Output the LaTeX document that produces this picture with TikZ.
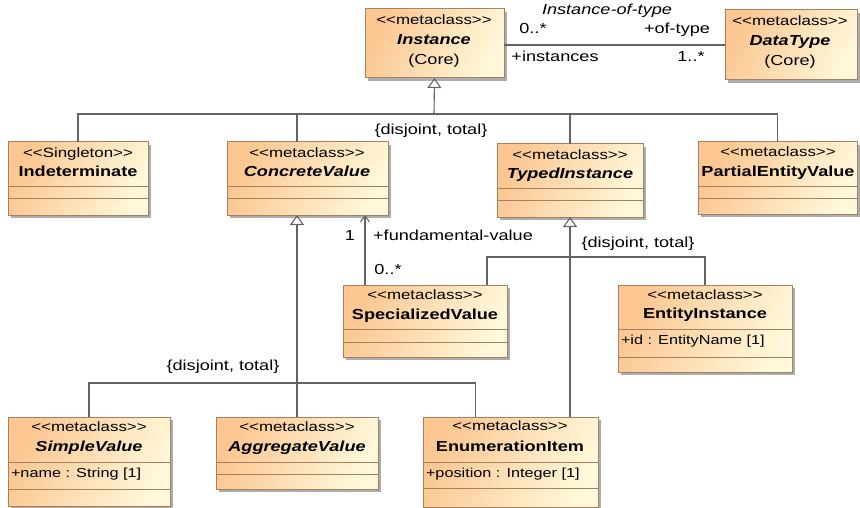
\documentclass[tikz,border=0pt]{standalone}
\usepackage{fontspec}
\setmainfont{Liberation Sans}[FakeStretch=1.25]
\usetikzlibrary{arrows.meta,shadows,calc}

\definecolor{boxorange}{RGB}{251,198,144}
\definecolor{boxyellow}{RGB}{255,248,218}
\definecolor{boxborder}{RGB}{168,128,96}
\definecolor{linegray}{RGB}{100,100,100}

% class box: name, left, top, width, height
\newcommand{\umlclass}[5]{\node[classbox, minimum width=#4, minimum height=#5] (#1) at (#2,#3) {};}
% compartment line across a class box at height y
\newcommand{\compline}[2]{\draw[sepline] (#1.west |- 0,#2) -- (#1.east |- 0,#2);}
\newcommand{\stereotype}[1]{<{}<#1>{}>}

\begin{document}
\begin{tikzpicture}[y=1pt, x=1pt, yscale=-1, inner sep=0pt, outer sep=0pt,
  classbox/.style={draw=boxborder, line width=1pt, anchor=north west,
    left color=boxorange, right color=boxyellow, shading angle=65,
    drop shadow={shadow xshift=3pt, shadow yshift=-3pt, fill=black!40, opacity=0.8}},
  sepline/.style={draw=boxborder, line width=1pt},
  stereo/.style={font=\fontsize{13.5}{15}\selectfont, anchor=mid},
  cname/.style={font=\fontsize{14.5}{16}\selectfont\bfseries, anchor=mid},
  aname/.style={font=\fontsize{14.5}{16}\selectfont\bfseries\itshape, anchor=mid},
  attr/.style={font=\fontsize{13}{15}\selectfont, anchor=mid west},
  lbl/.style={font=\fontsize{14.5}{16}\selectfont, anchor=mid},
  conn/.style={draw=linegray, line width=1.1pt},
  gen/.style={conn, -{Triangle[open, length=10pt, width=14pt]}},
  nav/.style={conn, -{Straight Barb[length=6pt, width=9pt]}}]

  \useasboundingbox (0,0) rectangle (860,508);

  % top row
  \umlclass{instance}{365}{9}{139}{69}
  \path (434,22) node[stereo] (instancest) {\stereotype{metaclass}};
  \path (434,42) node[aname] (instancenm) {Instance};
  \path (434,62) node[lbl] (instancepk) {(Core)};

  \umlclass{datatype}{725}{10}{132}{70}
  \path (790,23) node[stereo] (datatypest) {\stereotype{metaclass}};
  \path (790,43) node[aname] (datatypenm) {DataType};
  \path (790,63) node[lbl] (datatypepk) {(Core)};

  % association instance-of-type
  \draw[conn] (instance.east |- datatype.west) -- (datatype.west);
  \path (607,12) node[lbl] (assocname) {\itshape Instance-of-type};
  \path (533,31) node[lbl] (multinst) {0..*};
  \path (677,31) node[lbl] (roletype) {+of-type};
  \path (555,59) node[lbl] (roleinst) {+instances};
  \path (691,59) node[lbl] (multtype) {1..*};

  % level one
  \umlclass{indeterminate}{8}{142}{140}{73}
  \compline{indeterminate}{187}
  \compline{indeterminate}{199}
  \path (78,155) node[stereo] (indeterminatest) {\stereotype{Singleton}};
  \path (78,174) node[cname] (indeterminatenm) {Indeterminate};

  \umlclass{concrete}{227}{142}{161}{73}
  \compline{concrete}{187}
  \compline{concrete}{199}
  \path (307,155) node[stereo] (concretest) {\stereotype{metaclass}};
  \path (307,174) node[aname] (concretenm) {ConcreteValue};

  \umlclass{typed}{497}{144}{146}{73}
  \compline{typed}{189}
  \compline{typed}{201}
  \path (570,157) node[stereo] (typedst) {\stereotype{metaclass}};
  \path (570,176) node[aname] (typednm) {TypedInstance};

  \umlclass{partial}{698}{142}{159}{72}
  \compline{partial}{187}
  \compline{partial}{199}
  \path (778,154) node[stereo] (partialst) {\stereotype{metaclass}};
  \path (778,174) node[cname] (partialnm) {PartialEntityValue};

  % generalization of instance
  \coordinate (bar1) at (434,114);
  \coordinate (cvtop) at (297,142);
  \draw[gen] (bar1) -- (instance.south);
  \draw[conn] (indeterminate.north) |- (partial.north |- bar1) -- (partial.north);
  \draw[conn] (typed.north) -- (typed.north |- bar1);
  \draw[conn] (cvtop) -- (cvtop |- bar1);
  \path (431,132) node[lbl] (disjointa) {\{disjoint, total\}};

  % level two
  \umlclass{specialized}{343}{285}{164}{72}
  \compline{specialized}{329}
  \compline{specialized}{342}
  \path (425,297) node[stereo] (specializedst) {\stereotype{metaclass}};
  \path (425,317) node[cname] (specializednm) {SpecializedValue};

  \umlclass{entity}{618}{285}{174}{87}
  \compline{entity}{329}
  \compline{entity}{357}
  \path (705,297) node[stereo] (entityst) {\stereotype{metaclass}};
  \path (705,316) node[cname] (entitynm) {EntityInstance};
  \path (621,342) node[attr] (entityat) {+id : EntityName [1]};

  % association fundamental-value
  \coordinate (fvfoot) at ($(specialized.north west)+(22,0)$);
  \draw[nav] (fvfoot) -- (fvfoot |- concrete.south);
  \path (350,238) node[lbl] (multfv) {1};
  \path (453,238) node[lbl] (rolefv) {+fundamental-value};
  \path (388,272) node[lbl] (multsv) {0..*};

  % level three
  \umlclass{simple}{8}{417}{162}{89}
  \compline{simple}{462}
  \compline{simple}{489}
  \path (89,429) node[stereo] (simplest) {\stereotype{metaclass}};
  \path (89,449) node[aname] (simplenm) {SimpleValue};
  \path (11,475) node[attr] (simpleat) {+name : String [1]};

  \umlclass{aggregate}{216}{417}{162}{72}
  \compline{aggregate}{462}
  \compline{aggregate}{474}
  \path (297,429) node[stereo] (aggregatest) {\stereotype{metaclass}};
  \path (297,449) node[aname] (aggregatenm) {AggregateValue};

  \umlclass{enumitem}{423}{417}{175}{90}
  \compline{enumitem}{462}
  \compline{enumitem}{488}
  \path (510,428) node[stereo] (enumitemst) {\stereotype{metaclass}};
  \path (510,449) node[cname] (enumitemnm) {EnumerationItem};
  \path (426,475) node[attr] (enumitemat) {+position : Integer [1]};

  % generalization of concrete value
  \coordinate (bar2) at (297,383);
  \coordinate (enumfoot) at ($(enumitem.north)+(-35,0)$);
  \draw[gen] (aggregate.north) -- (aggregate.north |- concrete.south);
  \draw[conn] (simple.north) |- (enumfoot |- bar2) -- (enumfoot);
  \path (223,368) node[lbl] (disjointc) {\{disjoint, total\}};

  % generalization of typed instance
  \coordinate (bar3) at (570,257);
  \coordinate (specfoot) at ($(specialized.north east)+(-20,0)$);
  \draw[gen] (typed.south |- enumitem.north) -- (typed.south);
  \draw[conn] (specfoot) |- (entity.north |- bar3) -- (entity.north);
  \path (638,245) node[lbl] (disjointb) {\{disjoint, total\}};

\end{tikzpicture}
\end{document}
